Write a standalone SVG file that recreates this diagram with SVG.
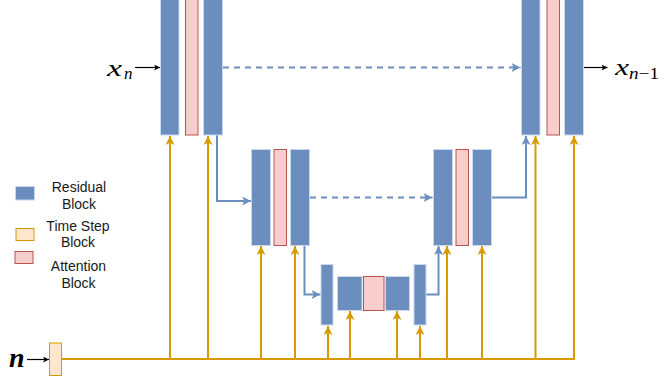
<svg xmlns="http://www.w3.org/2000/svg" width="664" height="389" viewBox="0 0 664 389">
<style>
.res{fill:#6c8ebf;stroke:#c9d8ee;stroke-width:1}
.att{fill:#f8cecc;stroke:#b85450;stroke-width:1}
.ts{fill:#ffe6cc;stroke:#d79b00;stroke-width:1}
.gold{fill:none;stroke:#d79b00;stroke-width:2}
.blue{fill:none;stroke:#6c8ebf;stroke-width:2}
.dash{fill:none;stroke:#6c8ebf;stroke-width:2;stroke-dasharray:6 5}
.blk{fill:none;stroke:#000;stroke-width:1.2}
.leg{font-family:"Liberation Sans",Arial,sans-serif;font-size:14px;fill:#1a1a1a;text-anchor:middle}
.math{font-family:"Liberation Serif","Times New Roman",serif;font-style:italic;fill:#000}
</style>
<defs>
<marker id="ag" viewBox="0 0 10 10" refX="10" refY="5" markerWidth="9" markerHeight="9" markerUnits="userSpaceOnUse" orient="auto">
<path d="M0,0 L10,5 L0,10 L2.5,5 z" fill="#d79b00"/>
</marker>
<marker id="ab" viewBox="0 0 10 10" refX="10" refY="5" markerWidth="9" markerHeight="9" markerUnits="userSpaceOnUse" orient="auto">
<path d="M0,0 L10,5 L0,10 L2.5,5 z" fill="#6c8ebf"/>
</marker>
<marker id="ak" viewBox="0 0 10 10" refX="10" refY="5" markerWidth="7" markerHeight="6" markerUnits="userSpaceOnUse" orient="auto">
<path d="M0,0 L10,5 L0,10 L2.5,5 z" fill="#000"/>
</marker>
</defs>

<g id="connectors">
<path class="gold" d="M61,359 H574 V136" marker-end="url(#ag)"/>
<path class="gold" d="M170,359 V136" marker-end="url(#ag)"/>
<path class="gold" d="M208,359 V136" marker-end="url(#ag)"/>
<path class="gold" d="M261,359 V246" marker-end="url(#ag)"/>
<path class="gold" d="M295,359 V246" marker-end="url(#ag)"/>
<path class="gold" d="M328,359 V326" marker-end="url(#ag)"/>
<path class="gold" d="M350,359 V311" marker-end="url(#ag)"/>
<path class="gold" d="M397,359 V311" marker-end="url(#ag)"/>
<path class="gold" d="M420,359 V326" marker-end="url(#ag)"/>
<path class="gold" d="M447,359 V246" marker-end="url(#ag)"/>
<path class="gold" d="M482,359 V246" marker-end="url(#ag)"/>
<path class="gold" d="M535.5,359 V136" marker-end="url(#ag)"/>
<path class="blue" d="M217,135 V201 H251" marker-end="url(#ab)"/>
<path class="blue" d="M304.5,245 V294.5 H320.5" marker-end="url(#ab)"/>
<path class="blue" d="M426,294.5 H438.5 V246" marker-end="url(#ab)"/>
<path class="blue" d="M491,197.5 H526 V136" marker-end="url(#ab)"/>
<path class="dash" d="M223,67.5 H520.5" marker-end="url(#ab)"/>
<path class="dash" d="M310,197.5 H432.5" marker-end="url(#ab)"/>
<path class="blk" d="M135,67.5 H160" marker-end="url(#ak)"/>
<path class="blk" d="M584,67.5 H607.5" marker-end="url(#ak)"/>
<path class="blk" d="M27,359.5 H49" marker-end="url(#ak)"/>
</g>

<g id="top-left">
<rect class="res" x="160.5" y="-5" width="18.5" height="140"/>
<rect class="att" x="185.5" y="-5" width="12.5" height="140"/>
<rect class="res" x="203.5" y="-5" width="19" height="140"/>
</g>
<g id="top-right">
<rect class="res" x="521.5" y="-5" width="18.5" height="140"/>
<rect class="att" x="547" y="-5" width="12.5" height="140"/>
<rect class="res" x="564.5" y="-5" width="19" height="140"/>
</g>
<g id="mid-left">
<rect class="res" x="251.5" y="149.5" width="19" height="96"/>
<rect class="att" x="274" y="149.5" width="12.5" height="96"/>
<rect class="res" x="290.5" y="149.5" width="19" height="96"/>
</g>
<g id="mid-right">
<rect class="res" x="433.5" y="149.5" width="19" height="96"/>
<rect class="att" x="456" y="149.5" width="12.5" height="96"/>
<rect class="res" x="472.5" y="149.5" width="19" height="96"/>
</g>
<g id="bottom">
<rect class="res" x="321" y="264.5" width="12" height="60.5"/>
<rect class="res" x="337.5" y="276.5" width="24.5" height="34"/>
<rect class="att" x="363.5" y="276.5" width="20.5" height="34"/>
<rect class="res" x="385.5" y="276.5" width="24" height="34"/>
<rect class="res" x="414" y="264.5" width="12" height="60.5"/>
</g>
<g id="time-step">
<rect class="ts" x="49.5" y="343" width="12" height="32.5"/>
</g>

<g id="labels">
<text class="math" x="107" y="76" font-size="24" textLength="15" lengthAdjust="spacingAndGlyphs">x</text>
<text class="math" x="124" y="79" font-size="17">n</text>
<text class="math" x="615" y="74.5" font-size="24" textLength="14" lengthAdjust="spacingAndGlyphs">x</text>
<text class="math" x="629" y="78.5" font-size="17" textLength="30" lengthAdjust="spacingAndGlyphs"><tspan>n</tspan><tspan font-style="normal">−1</tspan></text>
<text class="math" x="9" y="367" font-size="28" font-weight="bold">n</text>
</g>

<g id="legend">
<rect class="res" x="15.5" y="186.5" width="19" height="13.5"/>
<text class="leg" x="79" y="191.5">Residual</text>
<text class="leg" x="79" y="208.5">Block</text>
<rect class="ts" x="16" y="228.5" width="18" height="12"/>
<text class="leg" x="78" y="231">Time Step</text>
<text class="leg" x="78" y="247">Block</text>
<rect class="att" x="15" y="251.5" width="18" height="12"/>
<text class="leg" x="78.5" y="271">Attention</text>
<text class="leg" x="78.5" y="288">Block</text>
</g>
</svg>
